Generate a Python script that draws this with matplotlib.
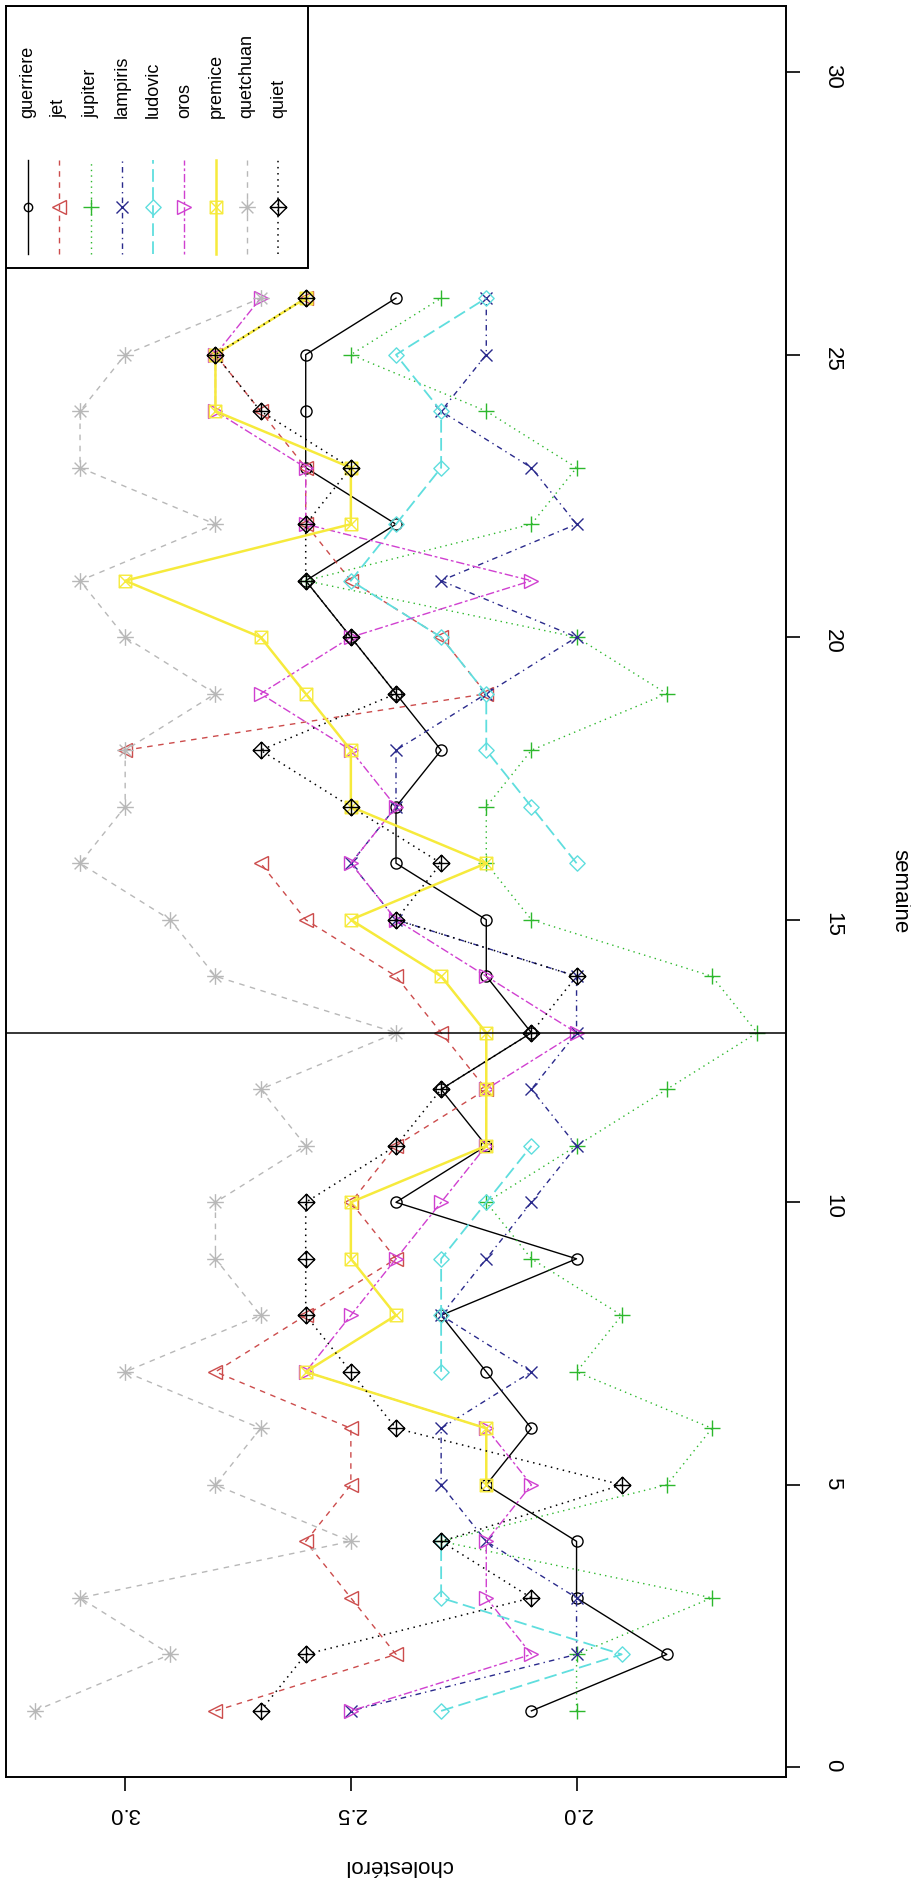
import numpy as np
import matplotlib
matplotlib.use("Agg")
import matplotlib.pyplot as plt
from matplotlib.path import Path
from matplotlib.patches import Rectangle
from matplotlib.lines import Line2D

nan = np.nan

# weekly cholesterol readings per subject
weeks = list(range(1, 27))
guerriere = [2.1, 1.8, 2.0, 2.0, 2.2, 2.1, 2.2, 2.3, 2.0, 2.4, 2.2, 2.3, 2.1,
             2.2, 2.2, 2.4, 2.4, 2.3, 2.4, 2.5, 2.6, 2.4, 2.6, 2.6, 2.6, 2.4]
jet = [2.8, 2.4, 2.5, 2.6, 2.5, 2.5, 2.8, 2.6, 2.4, 2.5, 2.4, 2.2, 2.3,
       2.4, 2.6, 2.7, nan, 3.0, 2.2, 2.3, 2.5, 2.6, 2.6, 2.7, 2.8, 2.6]
jupiter = [2.0, 2.0, 1.7, 2.3, 1.8, 1.7, 2.0, 1.9, 2.1, 2.2, 2.0, 1.8, 1.6,
           1.7, 2.1, 2.2, 2.2, 2.1, 1.8, 2.0, 2.6, 2.1, 2.0, 2.2, 2.5, 2.3]
lampiris = [2.5, 2.0, 2.0, 2.2, 2.3, 2.3, 2.1, 2.3, 2.2, 2.1, 2.0, 2.1, 2.0,
            2.0, 2.4, 2.5, 2.4, 2.4, 2.2, 2.0, 2.3, 2.0, 2.1, 2.3, 2.2, 2.2]
ludovic = [2.3, 1.9, 2.3, 2.3, nan, nan, 2.3, 2.3, 2.3, 2.2, 2.1, nan, nan,
           nan, nan, 2.0, 2.1, 2.2, 2.2, 2.3, 2.5, 2.4, 2.3, 2.3, 2.4, 2.2]
oros = [2.5, 2.1, 2.2, 2.2, 2.1, 2.2, 2.6, 2.5, 2.4, 2.3, 2.2, 2.2, 2.0,
        2.2, 2.4, 2.5, 2.4, 2.5, 2.7, 2.5, 2.1, 2.6, 2.6, 2.8, 2.8, 2.7]
premice = [nan, nan, nan, nan, 2.2, 2.2, 2.6, 2.4, 2.5, 2.5, 2.2, 2.2, 2.2,
           2.3, 2.5, 2.2, 2.5, 2.5, 2.6, 2.7, 3.0, 2.5, 2.5, 2.8, 2.8, 2.6]
quetchuan = [3.2, 2.9, 3.1, 2.5, 2.8, 2.7, 3.0, 2.7, 2.8, 2.8, 2.6, 2.7, 2.4,
             2.8, 2.9, 3.1, 3.0, 3.0, 2.8, 3.0, 3.1, 2.8, 3.1, 3.1, 3.0, 2.7]
quiet = [2.7, 2.6, 2.1, 2.3, 1.9, 2.4, 2.5, 2.6, 2.6, 2.6, 2.4, 2.3, 2.1,
         2.0, 2.4, 2.3, 2.5, 2.7, 2.4, 2.5, 2.6, 2.6, 2.5, 2.7, 2.8, 2.6]

names = ["guerriere", "jet", "jupiter", "lampiris", "ludovic", "oros",
         "premice", "quetchuan", "quiet"]
series = [guerriere, jet, jupiter, lampiris, ludovic, oros, premice,
          quetchuan, quiet]

chol_ticks = [2.0, 2.5, 3.0]
chol_labels = ["2.0", "2.5", "3.0"]
week_ticks = [0, 5, 10, 15, 20, 25, 30]
week_marker = 13

# ---- marker shapes -------------------------------------------------------
M, L, C = Path.MOVETO, Path.LINETO, Path.CLOSEPOLY
box_x = Path([(-1, -1), (1, -1), (1, 1), (-1, 1), (-1, -1),
              (-1, -1), (1, 1), (-1, 1), (1, -1)],
             [M, L, L, L, C, M, L, M, L])
r = 0.7071
star8 = Path([(-1, 0), (1, 0), (0, -1), (0, 1),
              (-r, -r), (r, r), (-r, r), (r, -r)],
             [M, L, M, L, M, L, M, L])
diamond = Path([(1, 0), (0, 1), (-1, 0), (0, -1), (1, 0)],
               [M, L, L, L, C])
diamond_plus = Path([(1, 0), (0, 1), (-1, 0), (0, -1), (1, 0),
                     (-1, 0), (1, 0), (0, -1), (0, 1)],
                    [M, L, L, L, C, M, L, M, L])

colors = ["#000000", "#cc4c4c", "#2db82d", "#2a2a8c", "#5fdede",
          "#d040d0", "#f6ea3c", "#b8b8b8", "#000000"]
markers = ["o", "<", "+", "x", diamond, ">", box_x, star8, diamond_plus]
msizes = [8, 10, 11, 9, 11, 10, 9, 12, 12]
legend_msizes = [6, 10, 11, 9, 11, 10, 9, 12, 12]
styles = ["-", (0, (4, 4)), (0, (1, 3)), (0, (1, 3, 4, 3)), (0, (7, 3)),
          (0, (2, 2, 6, 2)), "-", (0, (4, 4)), (0, (1, 3))]
widths = [1.0, 1.0, 1.0, 1.0, 1.3, 1.0, 1.8, 1.0, 1.1]

plt.rcParams["font.family"] = ["Liberation Sans", "DejaVu Sans"]

W, H = 912, 1889
fig = plt.figure(figsize=(W / 100, H / 100), dpi=100)
ax_l, ax_r, ax_t, ax_b = 6, 786, 6, 1777
ax = fig.add_axes([ax_l / W, 1 - ax_b / H, (ax_r - ax_l) / W, (ax_b - ax_t) / H])

for vals, col, mk, ms, ls, lw in zip(series, colors, markers, msizes, styles, widths):
    ax.plot(vals, weeks, color=col, linestyle=ls, linewidth=lw,
            marker=mk, markersize=ms, markerfacecolor="none",
            markeredgecolor=col, markeredgewidth=1.0)

ax.axhline(week_marker, color="black", linewidth=1.1)

ax.set_xlim(3.264, 1.536)
ax.set_ylim(-0.17, 31.17)

for s in ax.spines.values():
    s.set_linewidth(1.4)

ax.set_xticks(chol_ticks)
ax.set_xticklabels(chol_labels, rotation=180, fontsize=16)
ax.yaxis.tick_right()
ax.set_yticks(week_ticks)
ax.set_yticklabels([str(t) for t in week_ticks], rotation=270, fontsize=16)
ax.tick_params(axis="x", direction="out", length=10, width=1.2, pad=9)
ax.tick_params(axis="y", direction="out", length=10, width=1.2, pad=16)

fig.text(398 / W, 1 - 1865 / H, "cholestérol", rotation=180,
         ha="center", va="center", fontsize=16)
fig.text(900 / W, 1 - 891 / H, "semaine", rotation=270,
         ha="center", va="center", fontsize=16)

# ---- legend block (drawn in axes fractions) ------------------------------
def ax_xy(px, py):
    return ((px - ax_l) / (ax_r - ax_l), (ax_b - py) / (ax_b - ax_t))

x0, y0 = ax_xy(ax_l, 268)
x1, y1 = ax_xy(308, ax_t)
ax.add_patch(Rectangle((x0, y0), x1 - x0, y1 - y0, transform=ax.transAxes,
                       fill=False, edgecolor="black", linewidth=1.4, zorder=5))
for i, (name, col, mk, ms, ls, lw) in enumerate(zip(names, colors, markers,
                                                    legend_msizes, styles, widths)):
    px = 28 + i * 31.3
    lx, ly_top = ax_xy(px, 160)
    _, ly_bot = ax_xy(px, 254)
    _, ly_mid = ax_xy(px, 207)
    ax.add_line(Line2D([lx, lx], [ly_bot, ly_top], transform=ax.transAxes,
                       color=col, linestyle=ls, linewidth=lw, zorder=6))
    ax.add_line(Line2D([lx], [ly_mid], transform=ax.transAxes, color=col,
                       marker=mk, markersize=ms, markerfacecolor="none",
                       markeredgecolor=col, markeredgewidth=1.0, zorder=6))
    _, ty = ax_xy(px, 118)
    ax.text(lx, ty, name, transform=ax.transAxes, rotation=90,
            ha="center", va="bottom", fontsize=13, zorder=6)

fig.savefig("out.png", dpi=100)
